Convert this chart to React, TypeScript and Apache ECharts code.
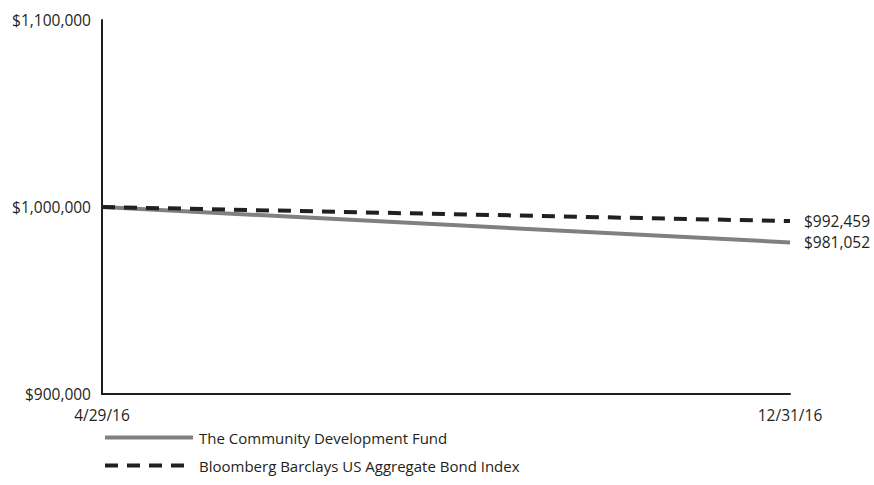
import React, { useEffect, useRef } from "react";
import * as echarts from "echarts";

const dates = ["4/29/16", "12/31/16"];
const fundValues = [1000000, 981052];
const indexValues = [1000000, 992459];
const fundName = "The Community Development Fund";
const indexName = "Bloomberg Barclays US Aggregate Bond Index";

const FONT = "'Open Sans', 'Noto Sans', sans-serif";
const TEXT = "#231f20";

const money = (v: number) => "$" + Math.round(v).toLocaleString("en-US");

export default function App() {
  const ref = useRef<HTMLDivElement>(null);

  useEffect(() => {
    if (!ref.current) return;
    const chart = echarts.init(ref.current, undefined, { renderer: "svg" });
    chart.setOption({
      animation: false,
      backgroundColor: "#ffffff",
      textStyle: { fontFamily: FONT, color: TEXT },
      grid: { left: 102, right: 84, top: 20, bottom: 91, containLabel: false },
      legend: {
        orient: "vertical",
        left: 98,
        top: 425,
        itemWidth: 88,
        itemHeight: 14,
        itemGap: 13,
        itemStyle: { opacity: 0 },
        lineStyle: { width: 4 },
        textStyle: { fontFamily: FONT, fontSize: 15, color: TEXT, padding: [0, 0, 0, 1] },
        data: [fundName, indexName],
      },
      xAxis: {
        type: "category",
        data: dates,
        boundaryGap: false,
        axisLine: { lineStyle: { color: TEXT, width: 2 } },
        axisTick: { show: false },
        axisLabel: { fontFamily: FONT, fontSize: 15.5, color: TEXT, margin: 13 },
        splitLine: { show: false },
      },
      yAxis: {
        type: "value",
        min: 900000,
        max: 1100000,
        interval: 100000,
        axisLine: { show: true, lineStyle: { color: TEXT, width: 2 } },
        axisTick: { show: false },
        axisLabel: { fontFamily: FONT, fontSize: 15.5, color: TEXT, margin: 11, formatter: (v: number) => money(v) },
        splitLine: { show: false },
      },
      series: [
        {
          name: fundName,
          type: "line",
          data: fundValues,
          symbol: "none",
          lineStyle: { color: "#808080", width: 4, type: "solid" },
          itemStyle: { color: "#808080" },
          endLabel: {
            show: true,
            distance: 14,
            fontFamily: FONT,
            fontSize: 15.5,
            color: TEXT,
            formatter: (p: any) => money(p.value),
          },
        },
        {
          name: indexName,
          type: "line",
          data: indexValues,
          symbol: "none",
          lineStyle: { color: TEXT, width: 4, type: [13, 9] },
          itemStyle: { color: TEXT },
          endLabel: {
            show: true,
            distance: 14,
            fontFamily: FONT,
            fontSize: 15.5,
            color: TEXT,
            formatter: (p: any) => money(p.value),
          },
        },
      ],
    });
    return () => chart.dispose();
  }, []);

  return <div ref={ref} style={{ width: 874, height: 485, position: "absolute", left: 0, top: 0 }} />;
}
